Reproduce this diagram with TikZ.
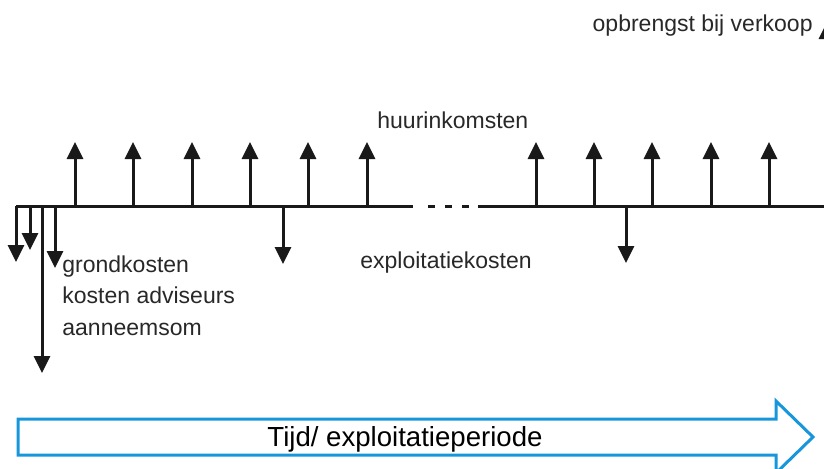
\documentclass[tikz,border=0pt]{standalone}
\usepackage{fontspec}
\setmainfont{Liberation Sans}
\usetikzlibrary{arrows.meta,positioning,calc}
\definecolor{lijn}{RGB}{25,25,25}
\definecolor{tekst}{RGB}{40,40,40}
\definecolor{tijdblauw}{RGB}{24,150,220}

\begin{document}
\begin{tikzpicture}[x=0.5pt,y=-0.5pt,
    flow/.style={draw=lijn, line width=1.5pt, -{Triangle[width=8pt,length=8.5pt]}},
    axis/.style={draw=lijn, line width=1.5pt},
    lbl/.style={text=tekst, font=\fontsize{11.5}{13}\selectfont, inner sep=0pt}]
    \useasboundingbox (0,0) rectangle (824,468);

    % Time line with the gap
    \coordinate (t0) at (16,206);
    \coordinate (t1) at (413,206);
    \coordinate (d0) at (428,206);
    \coordinate (d1) at (470,206);
    \coordinate (t2) at (478,206);
    \coordinate (t3) at (830,206);
    \draw [axis] (t0) -- (t1);
    \draw [axis, dash pattern=on 3.5pt off 5pt] (d0) -- (d1);
    \draw [axis] (t2) -- (t3);

    % Rental income (up)
    \foreach \i/\x in {1/75, 2/133, 3/192, 4/250, 5/308, 6/367, 7/536, 8/594, 9/652, 10/711, 11/769} {
        \coordinate (h\i) at (\x,206);
        \coordinate (h\i top) at (\x,142);
        \draw [flow] (h\i) -- (h\i top);
    }

    % Sale at the end
    \coordinate (v0) at (827,206);
    \coordinate (v1) at (827,22);
    \draw [flow] (v0) -- (v1);

    % Costs (down)
    \foreach \i/\x/\y in {1/16/262, 2/30/250, 3/42/373, 4/55/268, 5/283/264, 6/626/263} {
        \coordinate (k\i) at (\x,206);
        \coordinate (k\i end) at (\x,\y);
        \draw [flow] (k\i) -- (k\i end);
    }

    % Labels
    \node [lbl, anchor=base east] (verkoop) at (813,31) {opbrengst bij verkoop};
    \node [lbl, anchor=base west] (huur) at (377,128) {huurinkomsten};
    \node [lbl, anchor=base west] (exploit) at (360,268) {exploitatiekosten};
    \node [lbl, anchor=base west] (grond) at (62,272) {grondkosten};
    \node [lbl, anchor=base west] (advies) at ($(grond.base west)+(0,31.5)$) {kosten adviseurs};
    \node [lbl, anchor=base west] (aanneem) at ($(advies.base west)+(0,31.5)$) {aanneemsom};

    % Time arrow
    \draw [tijdblauw, line width=1.5pt, line join=miter]
        (18,419) -- (776,419) -- (776,401) -- (813,437) -- (776,473) -- (776,455) -- (18,455) -- cycle;
    \node [anchor=base, inner sep=0pt, font=\fontsize{13.8}{16}\selectfont] (tijd) at (405,446) {Tijd/ exploitatieperiode};
\end{tikzpicture}
\end{document}
